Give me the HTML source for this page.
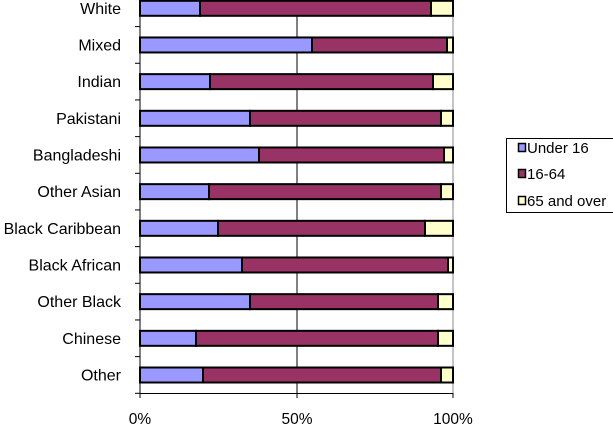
<!DOCTYPE html>
<html><head><meta charset="utf-8"><style>
html,body{margin:0;padding:0;background:#fff;width:613px;height:426px;overflow:hidden}
svg{display:block}
text{font-family:"Liberation Sans",Arial,sans-serif;fill:#000}
</style></head><body>
<svg width="613" height="426" viewBox="0 0 613 426" xmlns="http://www.w3.org/2000/svg">
<line x1="297" y1="-10" x2="297" y2="393" stroke="#000" stroke-width="1"/>
<line x1="453" y1="-10" x2="453" y2="393" stroke="#888" stroke-width="1"/>
<g id="bars" stroke="#000" stroke-width="2">
</g>
<line x1="140" y1="-10" x2="140" y2="394" stroke="#000" stroke-width="1"/>
<line x1="140" y1="393.5" x2="453" y2="393.5" stroke="#000" stroke-width="1"/>
<g stroke="#000" stroke-width="1">
<line x1="140" y1="393" x2="140" y2="398"/><line x1="297" y1="393" x2="297" y2="398"/><line x1="453" y1="393" x2="453" y2="398"/>
</g>
<g font-size="15.5" text-anchor="middle"><text x="140" y="424">0%</text><text x="297" y="424">50%</text><text x="453" y="424">100%</text></g>
<g id="lab" font-size="16" text-anchor="end"></g>
<g id="tk" stroke="#000" stroke-width="1"></g>
<rect x="506.5" y="138.5" width="120" height="74" fill="#fff" stroke="#000" stroke-width="1"/>
<rect x="518.5" y="143.5" width="7" height="8" fill="#9999ff" stroke="#000" stroke-width="1.5"/>
<rect x="518.5" y="169.5" width="7" height="8" fill="#993366" stroke="#000" stroke-width="1.5"/>
<rect x="518.5" y="196.5" width="7" height="8" fill="#ffffcc" stroke="#000" stroke-width="1.5"/>
<g font-size="15"><text x="527" y="153">Under 16</text><text x="527" y="179">16-64</text><text x="527" y="206">65 and over</text></g>
<script>
var d=[["White",200,431],["Mixed",312,447],["Indian",210,433],["Pakistani",250,441],["Bangladeshi",259,444],["Other Asian",209,441],["Black Caribbean",218,425],["Black African",242,448],["Other Black",250,438],["Chinese",196,438],["Other",203,441]];
var ns="http://www.w3.org/2000/svg",b=document.getElementById("bars"),l=document.getElementById("lab"),t=document.getElementById("tk");
function el(p,n,a){var e=document.createElementNS(ns,n);for(var k in a)e.setAttribute(k,a[k]);p.appendChild(e);return e;}
d.forEach(function(r,i){var c=8.3+36.67*i,y=c-7.5,h=15;
el(b,"rect",{x:140,y:y,width:r[1]-140,height:h,fill:"#9999ff"});
el(b,"rect",{x:r[1],y:y,width:r[2]-r[1],height:h,fill:"#993366"});
el(b,"rect",{x:r[2],y:y,width:453-r[2],height:h,fill:"#ffffcc"});
var tx=el(l,"text",{x:121,y:c+5.5});tx.textContent=r[0];
var ty=c+18.3;el(t,"line",{x1:135,y1:ty,x2:140,y2:ty});});
</script>
</svg>
</body></html>
